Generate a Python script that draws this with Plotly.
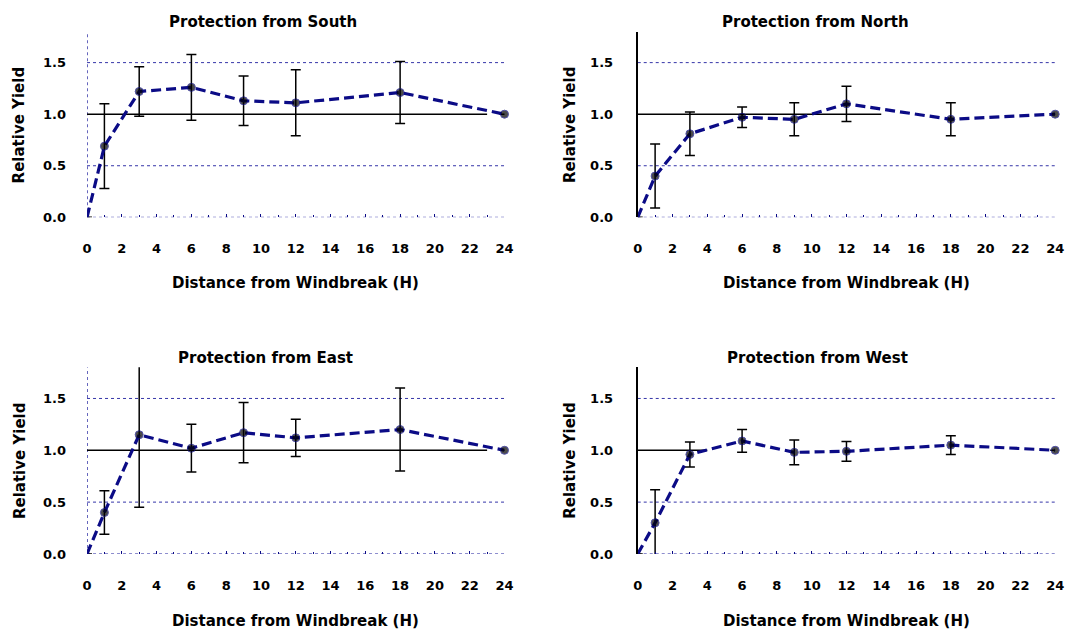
import plotly.graph_objects as go

# ---- data ----
distance = [0, 1, 3, 6, 9, 12, 18, 24]
panel_names = ["South", "North", "East", "West"]

south_yield = [0.0, 0.69, 1.22, 1.26, 1.13, 1.11, 1.21, 1.00]
south_err = [None, 0.41, 0.24, 0.32, 0.24, 0.32, 0.30, None]

north_yield = [0.0, 0.40, 0.81, 0.97, 0.95, 1.10, 0.95, 1.00]
north_err = [None, 0.31, 0.21, 0.10, 0.16, 0.17, 0.16, None]

east_yield = [0.0, 0.40, 1.15, 1.02, 1.17, 1.12, 1.20, 1.00]
east_err = [None, 0.21, 0.70, 0.23, 0.29, 0.18, 0.40, None]

west_yield = [0.0, 0.30, 0.96, 1.09, 0.98, 0.99, 1.05, 1.00]
west_err = [None, 0.32, 0.12, 0.11, 0.12, 0.095, 0.09, None]

# end of the solid reference line drawn at relative yield 1.0
ref_line_end = [23, 14, 23, 4]
x_ticks = list(range(0, 25, 2))
y_ticks = [0.0, 0.5, 1.0, 1.5]
y_ticktext = ["0.0", "0.5", "1.0", "1.5"]
grid_levels = [0.0, 0.5, 1.5]

yields = [south_yield, north_yield, east_yield, west_yield]
errors = [south_err, north_err, east_err, west_err]

# ---- styling ----
OFF_X, OFF_Y = 10, 5
W, H = 1071, 628
NAVY = "#0b0b86"
GRID = "#3535a8"
TICKFONT = dict(family="DejaVu Sans", size=13, color="black", weight="bold")
TITLEFONT = dict(family="DejaVu Sans", size=15, color="black", weight="bold")

x_domains = [(85, 508), (643, 1066), (85, 508), (643, 1066)]
y_domains = [(29, 217), (29, 217), (369, 558), (369, 558)]
dotted_yaxis = [True, False, True, False]
title_pos = [(263, 19), (823, 19), (266, 360), (825, 360)]
xtitle_pos = [(296, 284), (855, 284), (296, 626), (855, 626)]
ytitle_pos = [(17, 123), (575, 123), (17, 463), (575, 463)]


def px_x(v):
    return (v - OFF_X) / W


def px_y(v):
    return 1 - (v - OFF_Y) / H


fig = go.Figure()
layout = dict(
    width=W, height=H,
    margin=dict(l=0, r=0, t=0, b=0),
    paper_bgcolor="white", plot_bgcolor="white",
    showlegend=False, font=TICKFONT,
)
shapes = []
annotations = []

for i, name in enumerate(panel_names):
    n = "" if i == 0 else str(i + 1)
    xa, ya = "x" + n, "y" + n
    x0, x1 = x_domains[i]
    top, bot = y_domains[i]
    layout["xaxis" + n] = dict(
        domain=[px_x(x0), px_x(x1)], range=[0, 24], anchor=ya,
        tickvals=x_ticks, showgrid=False, zeroline=False, showline=False,
        ticks="inside", ticklen=3, tickcolor=NAVY, tickwidth=1,
        minor=dict(dtick=1, ticks="inside", ticklen=2, tickcolor=NAVY),
        ticklabelstandoff=22, tickfont=TICKFONT, fixedrange=True,
    )
    layout["yaxis" + n] = dict(
        domain=[px_y(bot), px_y(top)], range=[0, 1.8], anchor=xa,
        tickvals=y_ticks, ticktext=y_ticktext, showgrid=False, zeroline=False,
        showline=not dotted_yaxis[i], linecolor="black", linewidth=2,
        ticks="", ticklabelstandoff=20, tickfont=TICKFONT, fixedrange=True,
    )
    for g in grid_levels:
        shapes.append(dict(type="line", xref=xa, yref=ya, x0=0, x1=24, y0=g, y1=g,
                           line=dict(color=GRID, width=1, dash="dot"), layer="below"))
    if dotted_yaxis[i]:
        shapes.append(dict(type="line", xref=xa, yref=ya, x0=0, x1=0, y0=0, y1=1.8,
                           line=dict(color=GRID, width=1.5, dash="dot"), layer="below"))
    shapes.append(dict(type="line", xref=xa, yref=ya, x0=0, x1=ref_line_end[i], y0=1, y1=1,
                       line=dict(color="black", width=1.6), layer="below"))

    fig.add_trace(go.Scatter(
        x=distance, y=yields[i], xaxis=xa, yaxis=ya, mode="lines+markers",
        line=dict(color=NAVY, width=3.2, dash="10px,5px"),
        marker=dict(color="black", size=[0] + [8] * (len(distance) - 1)),
        error_y=dict(type="data", array=errors[i], visible=True,
                     color="black", thickness=1.5, width=5),
        cliponaxis=False, hoverinfo="x+y",
    ))

    tx, ty = title_pos[i]
    annotations.append(dict(text="Protection from " + name, x=px_x(tx), y=px_y(ty),
                            xref="paper", yref="paper", showarrow=False,
                            xanchor="center", yanchor="middle", font=TITLEFONT))
    tx, ty = xtitle_pos[i]
    annotations.append(dict(text="Distance from Windbreak (H)", x=px_x(tx), y=px_y(ty),
                            xref="paper", yref="paper", showarrow=False,
                            xanchor="center", yanchor="middle", font=TITLEFONT))
    tx, ty = ytitle_pos[i]
    annotations.append(dict(text="Relative Yield", x=px_x(tx), y=px_y(ty),
                            xref="paper", yref="paper", showarrow=False, textangle=-90,
                            xanchor="center", yanchor="middle", font=TITLEFONT))

layout["shapes"] = shapes
layout["annotations"] = annotations
fig.update_layout(**layout)
fig.write_html("out.html")
